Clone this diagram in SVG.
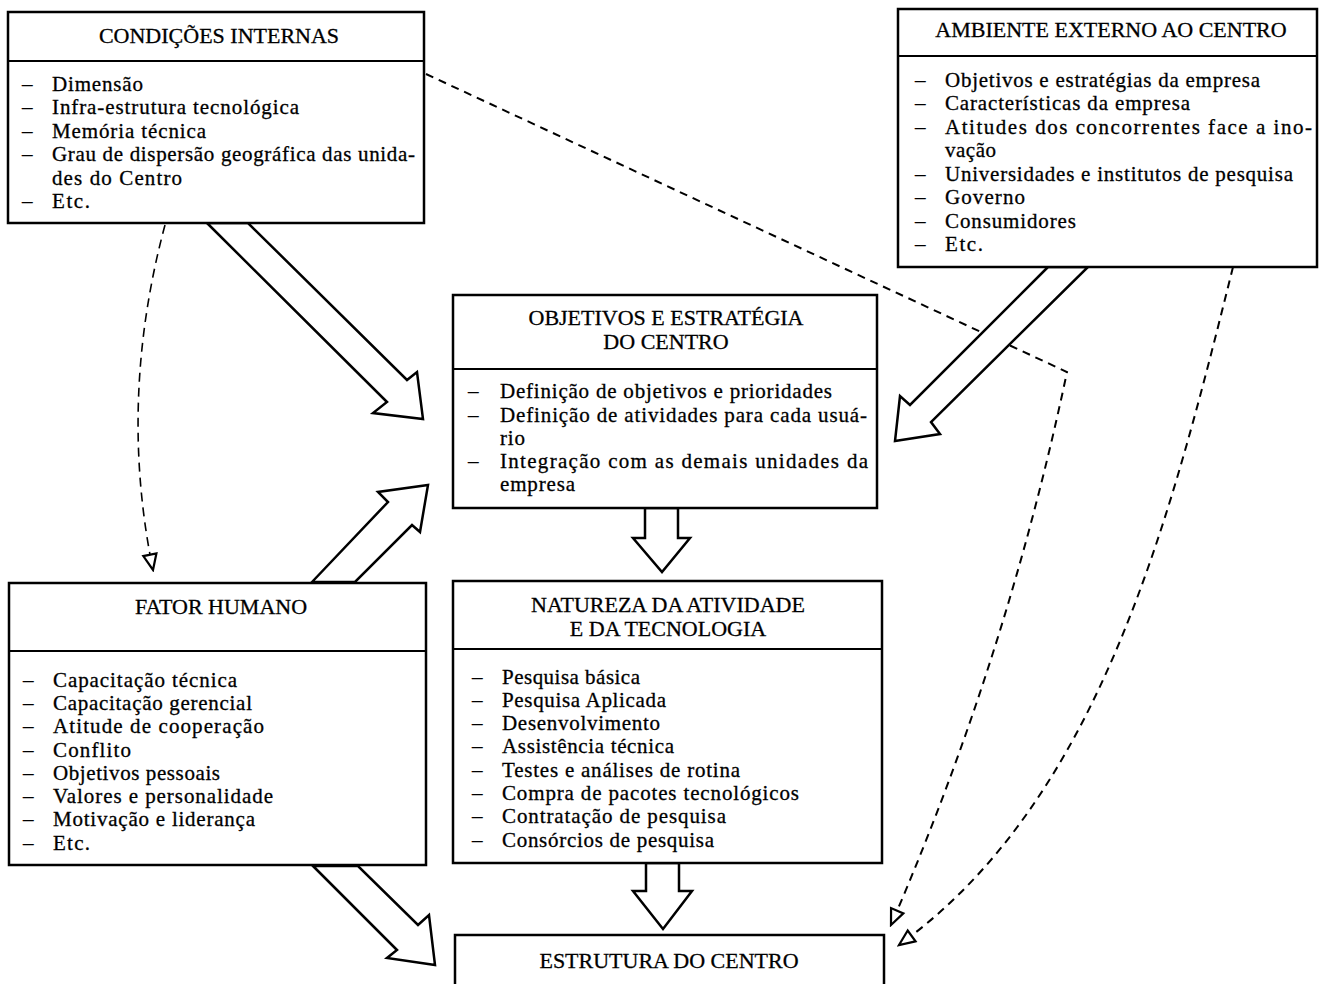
<svg xmlns="http://www.w3.org/2000/svg" width="1320" height="984" viewBox="0 0 1320 984">
<defs>
<style>
.box{fill:#fff;stroke:#000;stroke-width:2.5}
.div{stroke:#000;stroke-width:2}
.t{font-family:"Liberation Serif","Times New Roman",serif;font-size:21px;fill:#000;stroke:#000;stroke-width:0.3}
.h{font-family:"Liberation Serif","Times New Roman",serif;font-size:22px;fill:#000;text-anchor:middle;stroke:#000;stroke-width:0.3}
.dl{fill:none;stroke:#000;stroke-width:2;stroke-dasharray:8 6}
.big{fill:#fff;stroke:#000;stroke-width:2.5;stroke-linejoin:miter}
</style>
<marker id="oh" markerUnits="userSpaceOnUse" markerWidth="20" markerHeight="20" viewBox="-2 -8 18 16" refX="14" refY="0" orient="auto">
<path d="M0,-6 L14,0 L0,6 Z" fill="#fff" stroke="#000" stroke-width="2"/>
</marker>
</defs>
<rect width="1320" height="984" fill="#fff"/>
<g id="connectors">
<path class="dl" d="M426 74 L1067 372 Q1007 657 891 925" marker-end="url(#oh)"/>
<path class="dl" d="M1233 267 C1170 520 1100 800 899 945" marker-end="url(#oh)"/>
<path class="dl" style="stroke-width:1.6;stroke-dasharray:9 6" d="M165 225 Q118 400 153 570" marker-end="url(#oh)"/>
<polygon class="big" points="207,223 387,402 373,413 423,419 417,372 407,380 248,223"/>
<polygon class="big" points="312,582 388,502 378,492 428,485 420,532 412,525 355,582"/>
<polygon class="big" points="1048,267 910,405 900,396 895,441 940,434 931,422 1088,267"/>
<polygon class="big" points="645,508 645,538 633,538 662,572 690,538 678,538 678,508"/>
<polygon class="big" points="646,863 646,891 633,891 663,929 692,891 679,891 679,863"/>
<polygon class="big" points="313,866 397,950 387,958 435,965 429,915 418,925 358,866"/>
</g>
<g id="condicoes">
<rect class="box" x="8" y="12" width="416" height="211"/>
<line class="div" x1="8" y1="61" x2="424" y2="61"/>
<text class="h" x="219" y="43">CONDIÇÕES INTERNAS</text>
<text class="t" y="91"><tspan x="22">–</tspan><tspan x="52" textLength="91" lengthAdjust="spacing">Dimensão</tspan></text>
<text class="t" y="114"><tspan x="22">–</tspan><tspan x="52" textLength="247" lengthAdjust="spacing">Infra-estrutura tecnológica</tspan></text>
<text class="t" y="138"><tspan x="22">–</tspan><tspan x="52" textLength="154" lengthAdjust="spacing">Memória técnica</tspan></text>
<text class="t" y="161"><tspan x="22">–</tspan><tspan x="52" textLength="363" lengthAdjust="spacing">Grau de dispersão geográfica das unida-</tspan></text>
<text class="t" y="185"><tspan x="52" textLength="130" lengthAdjust="spacing">des do Centro</tspan></text>
<text class="t" y="208"><tspan x="22">–</tspan><tspan x="52" textLength="38" lengthAdjust="spacing">Etc.</tspan></text>
</g>
<g id="ambiente">
<rect class="box" x="898" y="9" width="419" height="258"/>
<line class="div" x1="898" y1="56" x2="1317" y2="56"/>
<text class="h" x="1111" y="37">AMBIENTE EXTERNO AO CENTRO</text>
<text class="t" y="87"><tspan x="915">–</tspan><tspan x="945" textLength="315" lengthAdjust="spacing">Objetivos e estratégias da empresa</tspan></text>
<text class="t" y="110"><tspan x="915">–</tspan><tspan x="945" textLength="245" lengthAdjust="spacing">Características da empresa</tspan></text>
<text class="t" y="134"><tspan x="915">–</tspan><tspan x="945" textLength="367" lengthAdjust="spacing">Atitudes dos concorrentes face a ino-</tspan></text>
<text class="t" y="157"><tspan x="945" textLength="51" lengthAdjust="spacing">vação</tspan></text>
<text class="t" y="181"><tspan x="915">–</tspan><tspan x="945" textLength="348" lengthAdjust="spacing">Universidades e institutos de pesquisa</tspan></text>
<text class="t" y="204"><tspan x="915">–</tspan><tspan x="945" textLength="80" lengthAdjust="spacing">Governo</tspan></text>
<text class="t" y="228"><tspan x="915">–</tspan><tspan x="945" textLength="131" lengthAdjust="spacing">Consumidores</tspan></text>
<text class="t" y="251"><tspan x="915">–</tspan><tspan x="945" textLength="38" lengthAdjust="spacing">Etc.</tspan></text>
</g>
<g id="objetivos">
<rect class="box" x="453" y="295" width="424" height="213"/>
<line class="div" x1="453" y1="369" x2="877" y2="369"/>
<text class="h" x="666" y="325">OBJETIVOS E ESTRATÉGIA</text>
<text class="h" x="666" y="349">DO CENTRO</text>
<text class="t" y="398"><tspan x="468">–</tspan><tspan x="500" textLength="332" lengthAdjust="spacing">Definição de objetivos e prioridades</tspan></text>
<text class="t" y="422"><tspan x="468">–</tspan><tspan x="500" textLength="367" lengthAdjust="spacing">Definição de atividades para cada usuá-</tspan></text>
<text class="t" y="445"><tspan x="500" textLength="25" lengthAdjust="spacing">rio</tspan></text>
<text class="t" y="468"><tspan x="468">–</tspan><tspan x="500" textLength="368" lengthAdjust="spacing">Integração com as demais unidades da</tspan></text>
<text class="t" y="491"><tspan x="500" textLength="75" lengthAdjust="spacing">empresa</tspan></text>
</g>
<g id="fator">
<rect class="box" x="9" y="583" width="417" height="282"/>
<line class="div" x1="9" y1="651" x2="426" y2="651"/>
<text class="h" x="221" y="614">FATOR HUMANO</text>
<text class="t" y="687"><tspan x="23">–</tspan><tspan x="53" textLength="184" lengthAdjust="spacing">Capacitação técnica</tspan></text>
<text class="t" y="710"><tspan x="23">–</tspan><tspan x="53" textLength="199" lengthAdjust="spacing">Capacitação gerencial</tspan></text>
<text class="t" y="733"><tspan x="23">–</tspan><tspan x="53" textLength="211" lengthAdjust="spacing">Atitude de cooperação</tspan></text>
<text class="t" y="757"><tspan x="23">–</tspan><tspan x="53" textLength="78" lengthAdjust="spacing">Conflito</tspan></text>
<text class="t" y="780"><tspan x="23">–</tspan><tspan x="53" textLength="167" lengthAdjust="spacing">Objetivos pessoais</tspan></text>
<text class="t" y="803"><tspan x="23">–</tspan><tspan x="53" textLength="220" lengthAdjust="spacing">Valores e personalidade</tspan></text>
<text class="t" y="826"><tspan x="23">–</tspan><tspan x="53" textLength="202" lengthAdjust="spacing">Motivação e liderança</tspan></text>
<text class="t" y="850"><tspan x="23">–</tspan><tspan x="53" textLength="37" lengthAdjust="spacing">Etc.</tspan></text>
</g>
<g id="natureza">
<rect class="box" x="453" y="581" width="429" height="282"/>
<line class="div" x1="453" y1="649" x2="882" y2="649"/>
<text class="h" x="668" y="612">NATUREZA DA ATIVIDADE</text>
<text class="h" x="668" y="636">E DA TECNOLOGIA</text>
<text class="t" y="684"><tspan x="472">–</tspan><tspan x="502" textLength="138" lengthAdjust="spacing">Pesquisa básica</tspan></text>
<text class="t" y="707"><tspan x="472">–</tspan><tspan x="502" textLength="164" lengthAdjust="spacing">Pesquisa Aplicada</tspan></text>
<text class="t" y="730"><tspan x="472">–</tspan><tspan x="502" textLength="158" lengthAdjust="spacing">Desenvolvimento</tspan></text>
<text class="t" y="753"><tspan x="472">–</tspan><tspan x="502" textLength="172" lengthAdjust="spacing">Assistência técnica</tspan></text>
<text class="t" y="777"><tspan x="472">–</tspan><tspan x="502" textLength="238" lengthAdjust="spacing">Testes e análises de rotina</tspan></text>
<text class="t" y="800"><tspan x="472">–</tspan><tspan x="502" textLength="297" lengthAdjust="spacing">Compra de pacotes tecnológicos</tspan></text>
<text class="t" y="823"><tspan x="472">–</tspan><tspan x="502" textLength="224" lengthAdjust="spacing">Contratação de pesquisa</tspan></text>
<text class="t" y="847"><tspan x="472">–</tspan><tspan x="502" textLength="212" lengthAdjust="spacing">Consórcios de pesquisa</tspan></text>
</g>
<g id="estrutura">
<rect class="box" x="455" y="935" width="429" height="70"/>
<text class="h" x="669" y="968">ESTRUTURA DO CENTRO</text>
</g>
</svg>
